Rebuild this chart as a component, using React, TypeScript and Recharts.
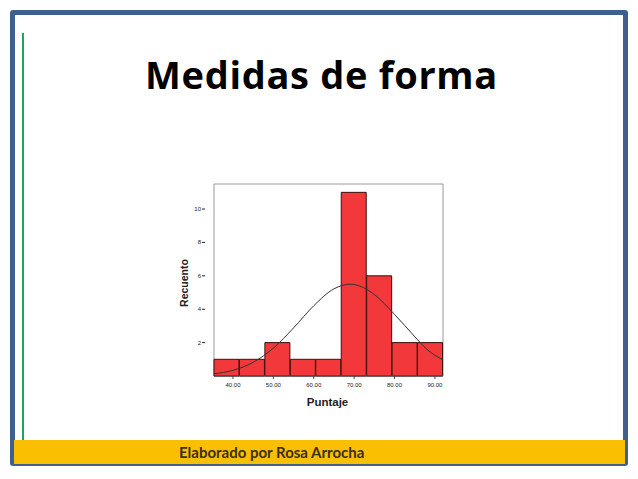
import { Bar, ComposedChart, Line, ReferenceArea, XAxis, YAxis } from "recharts"

const bins = ["35.3", "41.6", "47.9", "54.2", "60.5", "66.8", "73.1", "79.4", "85.7"]
const counts = [1, 1, 2, 1, 1, 11, 6, 2, 2]

const curveX = [35.3, 40, 45, 50, 55, 60, 65, 69, 72, 75, 80, 85, 88, 92]
const curveY = [0.13, 0.34, 0.82, 1.67, 2.88, 4.21, 5.22, 5.5, 5.33, 4.88, 3.69, 2.36, 1.6, 0.96]

const xTicks = [40, 50, 60, 70, 80, 90]
const yTicks = [2, 4, 6, 8, 10]

const barData = bins.map((bin, i) => ({ bin, count: counts[i] }))
const curveData = curveX.map((x, i) => ({ x, y: curveY[i] }))

const tickFont = { fontSize: 6, fill: "#222", fontFamily: "Liberation Sans" }

function YTick({ x, y, payload }: any) {
  return (
    <g>
      <text x={x - 11} y={y} dy={2} textAnchor="end" {...tickFont}>
        {payload.value}
      </text>
      <line x1={x - 10} x2={x - 7} y1={y} y2={y} stroke="#222" />
    </g>
  )
}

function XTick({ x, y, payload }: any) {
  return (
    <g>
      <line x1={x} x2={x} y1={y - 5} y2={y - 2} stroke="#444" />
      <text x={x} y={y + 6} textAnchor="middle" {...tickFont}>
        {Number(payload.value).toFixed(2)}
      </text>
    </g>
  )
}

function Histogram() {
  return (
    <ComposedChart
      width={300}
      height={240}
      data={barData}
      barCategoryGap={0}
      margin={{ top: 4, right: 17, bottom: 0, left: 0 }}
    >
      <XAxis xAxisId="bins" dataKey="bin" type="category" hide height={0} />
      <XAxis
        xAxisId="num"
        dataKey="x"
        type="number"
        domain={[35.3, 92]}
        allowDataOverflow
        ticks={xTicks}
        interval={0}
        height={44}
        axisLine={{ stroke: "#555" }}
        tickLine={false}
        tickSize={3}
        tick={<XTick />}
        label={{
          content: ({ viewBox }: any) => (
            <text
              x={viewBox.x + viewBox.width / 2 - 1}
              y={viewBox.y + 30}
              textAnchor="middle"
              fontSize={11.5}
              fontWeight="bold"
              fontFamily="Liberation Sans"
              fill="#222"
            >
              Puntaje
            </text>
          ),
        }}
      />
      <YAxis
        domain={[0, 11.5]}
        ticks={yTicks}
        width={54}
        axisLine={false}
        tickLine={false}
        tickSize={0}
        tick={<YTick />}
        label={{
          content: ({ viewBox }: any) => {
            const cx = viewBox.x + 28
            const cy = viewBox.y + viewBox.height / 2 + 3
            return (
              <text
                x={cx}
                y={cy}
                transform={`rotate(-90 ${cx} ${cy})`}
                textAnchor="middle"
                fontSize={10.5}
                fontWeight="bold"
                fontFamily="Liberation Sans"
                fill="#222"
              >
                Recuento
              </text>
            )
          },
        }}
      />
      <ReferenceArea xAxisId="num" x1={35.3} x2={92} y1={0} y2={11.5} fill="none" stroke="#999" />
      <Bar xAxisId="bins" dataKey="count" fill="#f2383b" stroke="#3a1010" strokeWidth={1} isAnimationActive={false} />
      <Line
        xAxisId="num"
        data={curveData}
        dataKey="y"
        type="monotone"
        stroke="#333"
        strokeWidth={1}
        dot={false}
        isAnimationActive={false}
      />
    </ComposedChart>
  )
}

export default function App() {
  return (
    <div style={{ position: "absolute", left: 0, top: 0, width: 638, height: 479, background: "#fff", overflow: "hidden" }}>
      <div
        style={{
          position: "absolute",
          left: 10,
          top: 10,
          width: 608,
          height: 446,
          border: "5px solid #3f5f8c",
          borderRadius: 3,
          background: "#fff",
        }}
      />
      <div style={{ position: "absolute", left: 22, top: 33, width: 2, height: 408, background: "#1fa55a" }} />
      <div
        style={{
          position: "absolute",
          left: 14,
          top: 440,
          width: 611,
          height: 24,
          background: "#f9bf00",
        }}
      />
      <div
        style={{
          position: "absolute",
          left: 179,
          top: 443,
          fontFamily: "Lato",
          fontWeight: 700,
          fontSize: 15,
          lineHeight: "18px",
          color: "#3b2f14",
        }}
      >
        Elaborado por Rosa Arrocha
      </div>
      <div
        style={{
          position: "absolute",
          left: 145,
          top: 48,
          fontFamily: "Open Sans",
          fontWeight: 700,
          fontSize: 38,
          letterSpacing: 0.7,
          lineHeight: "52px",
          color: "#000",
          whiteSpace: "nowrap",
        }}
      >
        Medidas de forma
      </div>
      <div style={{ position: "absolute", left: 160, top: 180 }}>
        <Histogram />
      </div>
    </div>
  )
}
